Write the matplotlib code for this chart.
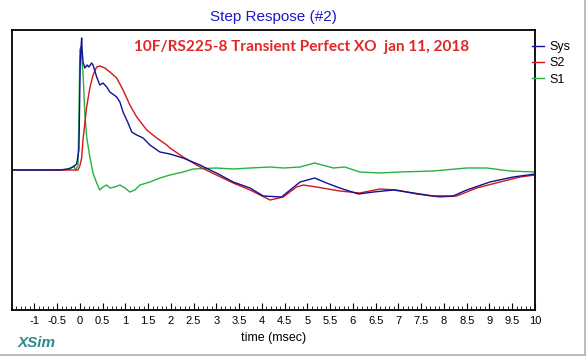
import matplotlib
matplotlib.use("Agg")
import matplotlib.pyplot as plt
from matplotlib.lines import Line2D
from matplotlib.ticker import MultipleLocator

plt.rcParams['font.family'] = ['Liberation Sans', 'DejaVu Sans']

# Sys (blue)
sys_t = [-1.49, -0.44, -0.26, -0.15, -0.07, -0.02, 0.01, 0.04, 0.05, 0.07, 0.11, 0.16, 0.20, 0.26, 0.29,
         0.37, 0.44, 0.51, 0.59, 0.66, 0.81, 0.88, 0.95, 1.06, 1.14, 1.25, 1.39, 1.54, 1.76, 1.98, 2.27,
         2.64, 2.86, 3.00, 3.37, 3.74, 4.03, 4.43, 4.62, 4.84, 5.16, 5.42, 5.71, 6.12, 6.45, 6.89, 7.33,
         7.76, 8.20, 8.50, 9.01, 9.52, 10.0]
sys_v = [0, 0, 0.01, 0.03, 0.06, 0.20, 1.10, 1.32, 1.20, 1.08, 1.02, 1.05, 1.03, 1.07, 1.05,
         0.93, 0.85, 0.87, 0.83, 0.78, 0.73, 0.68, 0.58, 0.47, 0.38, 0.35, 0.32, 0.25, 0.18, 0.16, 0.12,
         0.05, 0.0, -0.03, -0.12, -0.18, -0.26, -0.27, -0.20, -0.12, -0.08, -0.13, -0.18, -0.24, -0.22, -0.20, -0.23,
         -0.26, -0.26, -0.20, -0.12, -0.07, -0.04]

# S2 (red)
s2_t = [-1.49, -0.04, 0.0, 0.04, 0.07, 0.11, 0.15, 0.22, 0.29, 0.37, 0.44, 0.55, 0.66, 0.81, 0.95, 1.10,
        1.25, 1.47, 1.69, 1.91, 1.98, 2.27, 2.64, 3.00, 3.37, 3.74, 4.18, 4.47, 4.76, 4.91, 5.20, 5.71,
        6.15, 6.59, 6.96, 7.40, 7.91, 8.28, 8.72, 9.23, 9.67, 10.0]
s2_v = [0, 0, 0.04, 0.12, 0.30, 0.47, 0.63, 0.82, 0.95, 1.03, 1.04, 1.02, 0.98, 0.92, 0.80, 0.65,
        0.53, 0.40, 0.32, 0.25, 0.22, 0.13, 0.03, -0.05, -0.13, -0.20, -0.30, -0.27, -0.17, -0.15, -0.17, -0.21,
        -0.23, -0.19, -0.20, -0.24, -0.27, -0.26, -0.18, -0.12, -0.07, -0.05]

# S1 (green)
s1_t = [-1.49, -0.44, -0.22, -0.13, -0.09, -0.04, -0.02, 0.0, 0.02, 0.07, 0.11, 0.15, 0.22, 0.29, 0.37,
        0.44, 0.51, 0.59, 0.66, 0.77, 0.88, 0.99, 1.10, 1.21, 1.32, 1.54, 1.76, 1.98, 2.27, 2.49, 3.00,
        3.37, 3.74, 4.18, 4.47, 4.84, 5.16, 5.57, 5.82, 6.15, 6.59, 7.03, 7.76, 8.50, 8.94, 9.45, 10.0]
s1_v = [0, 0, 0.01, 0.04, 0.0, 0.05, 0.50, 1.20, 1.23, 0.97, 0.57, 0.33, 0.13, -0.03, -0.13,
        -0.20, -0.17, -0.15, -0.18, -0.17, -0.15, -0.18, -0.22, -0.20, -0.15, -0.12, -0.08, -0.05, -0.02, 0.01, 0.02,
        0.01, 0.02, 0.03, 0.02, 0.03, 0.07, 0.02, 0.03, -0.02, -0.03, -0.02, -0.01, 0.02, 0.02, -0.01, -0.02]

tick_vals = [-1, -0.5, 0, 0.5, 1, 1.5, 2, 2.5, 3, 3.5, 4, 4.5, 5, 5.5, 6, 6.5, 7, 7.5, 8, 8.5, 9, 9.5, 10]
tick_labels = ['-1', '-0.5', '0', '0.5', '1', '1.5', '2', '2.5', '3', '3.5', '4', '4.5', '5', '5.5',
               '6', '6.5', '7', '7.5', '8', '8.5', '9', '9.5', '10']

W, H = 588, 357
fig = plt.figure(figsize=(W / 100, H / 100), dpi=100)
ax = fig.add_axes([12 / W, 1 - 310 / H, (535 - 12) / W, (310 - 30) / H])

c_sys, c_s2, c_s1 = '#10109a', '#d01818', '#28b040'
ax.plot(s1_t, s1_v, color=c_s1, lw=1.0, label='S1')
ax.plot(s2_t, s2_v, color=c_s2, lw=1.0, label='S2')
ax.plot(sys_t, sys_v, color=c_sys, lw=1.0, label='Sys')

ax.set_xlim(-1.49, 10)
ax.set_ylim(-1.4, 1.4)
ax.set_xticks(tick_vals)
ax.set_xticklabels(tick_labels, fontsize=8)
ax.xaxis.set_minor_locator(MultipleLocator(0.1))
ax.tick_params(axis='x', which='major', direction='in', length=5, width=0.8, pad=4)
ax.tick_params(axis='x', which='minor', direction='in', length=3, width=0.6)
ax.set_yticks([])
for s in ax.spines.values():
    s.set_linewidth(1.3)
    s.set_color('black')
ax.set_xlabel('time (msec)', fontsize=9, labelpad=5)

fig.text(273 / W, 1 - 17 / H, 'Step Respose (#2)', color='#1a1ad0', fontsize=11, ha='center', va='center')
ax.text(0.553, 0.938, '10F/RS225-8 Transient Perfect XO  jan 11, 2018', transform=ax.transAxes,
        family=['Lato', 'DejaVu Sans'], fontweight='bold', color='#e02828', fontsize=11.1,
        ha='center', va='center')
fig.text(18 / W, 1 - 343 / H, 'XSim', color='#2a8a8a', fontsize=11, fontweight='bold', style='italic',
         ha='left', va='center')

handles = [Line2D([], [], color=c_sys, lw=1.0), Line2D([], [], color=c_s2, lw=1.0),
           Line2D([], [], color=c_s1, lw=1.0)]
ax.legend(handles, ['Sys', 'S2', 'S1'], loc='upper left', bbox_to_anchor=(0.995, 0.961),
          frameon=False, fontsize=9, handlelength=0.9, handletextpad=0.5, labelspacing=0.35,
          borderaxespad=0, borderpad=0)

fig.add_artist(Line2D([585 / W, 585 / W], [1 - 355 / H, 1], color='#b0b0b0', lw=1.2))
fig.add_artist(Line2D([0, 585 / W], [1 - 355 / H, 1 - 355 / H], color='#b0b0b0', lw=1.2))

fig.savefig('out.png', dpi=100)
